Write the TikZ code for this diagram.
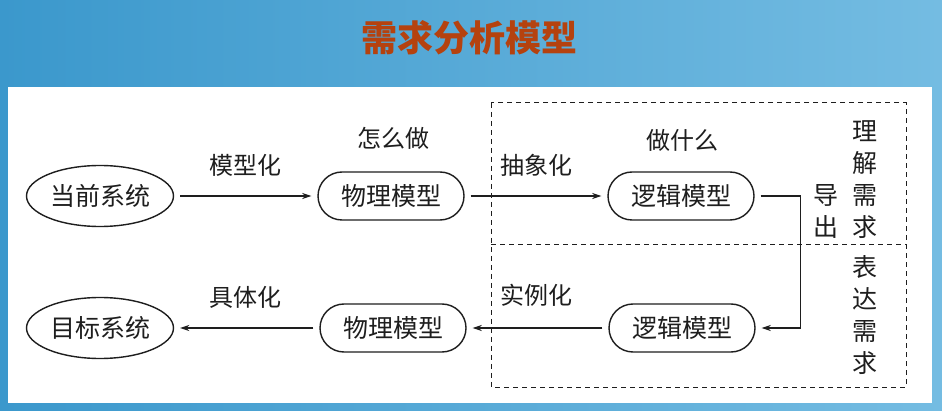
\documentclass[tikz,border=0pt]{standalone}
\usepackage{fontspec}
\usetikzlibrary{shapes,arrows.meta}
\newfontfamily\cjk{Noto Sans CJK SC}
\definecolor{bgleft}{HTML}{3B98CC}
\definecolor{bgright}{HTML}{74BCE2}
\definecolor{titlerust}{HTML}{B5420F}
\definecolor{inkgray}{HTML}{1E1E1E}

\begin{document}
\begin{tikzpicture}[x=1pt,y=-1pt,
  sysnode/.style={draw=inkgray,line width=1.4pt,ellipse,minimum width=147pt,minimum height=61pt,inner sep=0pt,inkgray,font={\cjk\fontsize{25}{25}\selectfont}},
  modnode/.style={draw=inkgray,line width=1.4pt,rounded corners=24pt,minimum width=146pt,minimum height=48pt,inner sep=0pt,inkgray,font={\cjk\fontsize{25}{25}\selectfont}},
  lbl/.style={inkgray,inner sep=0pt,font={\cjk\fontsize{24}{24}\selectfont}},
  vlbl/.style={inkgray,inner sep=0pt,align=center,font={\cjk\fontsize{25}{32}\selectfont}},
  flow/.style={inkgray,line width=1.4pt,-{Stealth[length=9pt,width=6pt]},shorten <=6pt,shorten >=6pt},
  zone/.style={inkgray,line width=1pt,dash pattern=on 5pt off 4pt}]
\useasboundingbox (0,0) rectangle (942,411);
\shade[left color=bgleft,right color=bgright] (0,0) rectangle (942,411);
\node[titlerust,font={\cjk\bfseries\fontsize{36}{36}\selectfont}] (title) at (469,38) {需求分析模型};
\fill[white] (8,87) rectangle (932,403);
\draw[zone] (491,103) rectangle (906,387);
\draw[zone] (491,245) -- (906,245);
% systems and models
\node[sysnode] (cur) at (100,196) {当前系统};
\node[sysnode] (goal) at (100,328) {目标系统};
\node[modnode] (phyA) at (391,196) {物理模型};
\node[modnode] (phyB) at (393,328) {物理模型};
\node[modnode] (logA) at (681,196) {逻辑模型};
\node[modnode] (logB) at (682,328) {逻辑模型};
\draw[flow] (cur) -- (phyA);
\draw[flow] (phyA) -- (logA);
\draw[flow] (logA.east) -- ++(46,0) |- (logB.east);
\draw[flow] (logB) -- (phyB);
\draw[flow] (phyB) -- (goal);
% labels
\node[lbl] (modelize) at (245,165) {模型化};
\node[lbl] (howdo) at (393,138) {怎么做};
\node[lbl] (abstr) at (536,165) {抽象化};
\node[lbl] (whatdo) at (682,140) {做什么};
\node[lbl] (concr) at (245,297) {具体化};
\node[lbl] (inst) at (536,295) {实例化};
\node[vlbl] (derive) at (826,211) {导\\出};
\node[vlbl] (understand) at (865,180) {理\\解\\需\\求};
\node[vlbl] (express) at (865,315) {表\\达\\需\\求};
\end{tikzpicture}
\end{document}
